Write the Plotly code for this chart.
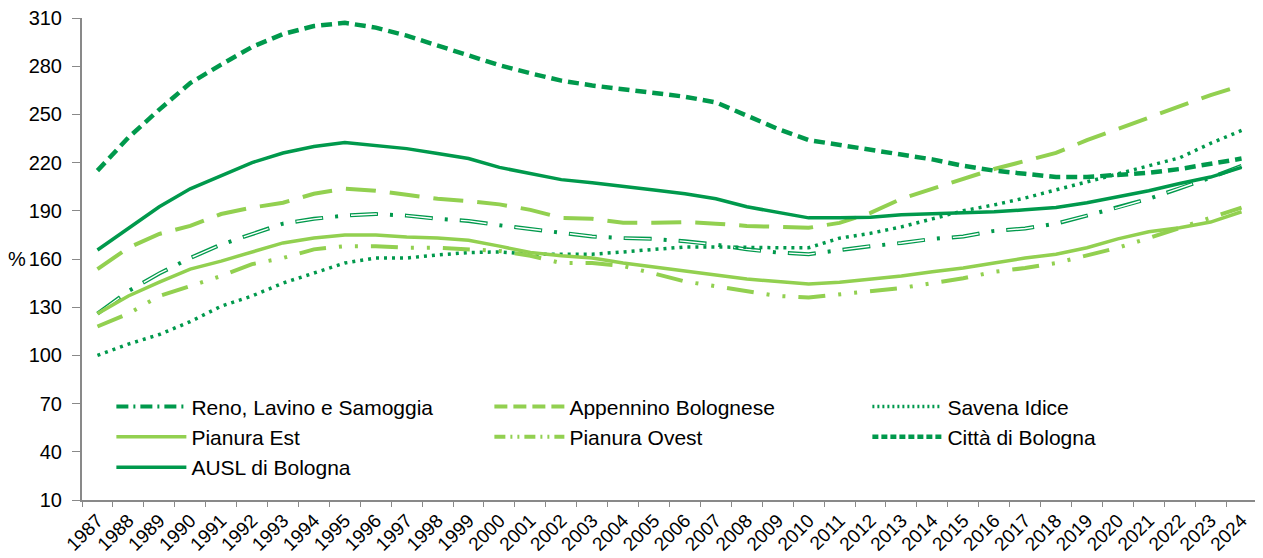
import plotly.graph_objects as go

# anni
anni = [str(a) for a in range(1987, 2025)]

# serie
reno = [126, 140, 151, 160.6, 169, 175.6, 182, 185, 187, 188, 187, 185, 183.7, 181, 178.7, 176, 174, 173, 172.5, 171,
        169, 166, 164, 163, 165.6, 168, 170, 172.5, 174, 177.5, 179, 182, 187, 192, 197.5, 204, 210.6, 218]
appennino = [153.7, 167, 175.6, 180.6, 188, 192, 195, 200.6, 203.7, 202.5, 200, 197.5, 196, 194, 190.6, 185.6, 185, 182.5, 182.5, 183,
             182, 180.6, 180, 179.4, 182.5, 188.7, 197.5, 203.7, 210, 216, 221, 226, 234, 241, 248, 255.6, 262, 268]
savena = [100, 107, 113, 121, 130.6, 137, 145, 151, 157.5, 160.6, 160.6, 162.5, 164, 164.4, 163, 163, 163, 164.4, 166, 167.5,
          167.5, 167, 167, 167, 173, 176, 180, 185, 190, 193.7, 198, 203, 208, 213, 217.5, 223, 232, 240]
pianura_est = [126, 137, 145.6, 153.7, 158.7, 164.4, 170, 173, 175, 175, 173.7, 173, 171.7, 168, 164, 162, 160.6, 157.5, 155, 152.5,
               150, 147.5, 146, 144.4, 145.6, 147.5, 149.4, 152, 154.4, 157.5, 160.6, 163, 167, 172.5, 177, 179.4, 183, 189.4]
pianura_ovest = [118, 126, 137, 143, 149.4, 156.8, 160.6, 166, 168, 168, 167, 167, 166, 165, 162, 157.5, 157.5, 155.6, 151, 146,
                 143, 140, 137, 136, 138, 140, 142, 145, 148, 152, 154.4, 157.5, 162, 167, 173, 179.4, 185.6, 192]
citta = [215, 235.6, 253, 269.5, 281, 292, 300, 305, 307, 304, 299, 293, 287, 280.6, 275.6, 271, 268, 265.6, 263.8, 261,
         257.5, 249, 241, 234, 231, 228.7, 225.6, 222, 218, 215, 213, 211, 211, 212.5, 213.7, 216, 219, 222.5]
ausl = [165.6, 179, 192.5, 203.7, 212, 220, 226, 230, 232.5, 230.6, 228.7, 225.6, 222.5, 217, 213, 209.4, 207.5, 205, 203, 200.6,
        197.5, 192.5, 189, 185.6, 185.6, 186, 187.5, 188, 188.7, 189.4, 190.6, 192, 195, 198.7, 202.5, 207, 211, 217]

verde_scuro = '#00994C'
verde_chiaro = '#92D050'

# (nome, valori, colore, spessore, tratteggio nel grafico, tratteggio in legenda)
serie = [
    ('Reno, Lavino e Samoggia', reno, verde_scuro, 4, '28px,12px,3px,12px', '12px,5px,2px,5px'),
    ('Appennino Bolognese', appennino, verde_chiaro, 4, '30px,14px', '13px,6px'),
    ('Savena Idice', savena, verde_scuro, 3.5, '3px,5px', '2px,3px'),
    ('Pianura Est', pianura_est, verde_chiaro, 3.5, 'solid', 'solid'),
    ('Pianura Ovest', pianura_ovest, verde_chiaro, 4, '27px,13px,3px,13px,3px,13px', '11px,5px,2px,5px,2px,5px'),
    ('Città di Bologna', citta, verde_scuro, 4.5, '11px,6px', '6px,3px'),
    ('AUSL di Bologna', ausl, verde_scuro, 3.5, 'solid', 'solid'),
]

fig = go.Figure()

for nome, valori, colore, spessore, tratto, _ in serie:
    fig.add_trace(go.Scatter(x=anni, y=valori, mode='lines', name=nome, showlegend=False,
                             line=dict(color=colore, width=spessore, dash=tratto)))
    if nome.startswith('Reno'):
        # linea interna bianca per l'effetto "doppia linea"
        fig.add_trace(go.Scatter(x=anni, y=valori, mode='lines', showlegend=False, hoverinfo='skip',
                                 line=dict(color='white', width=1.4, dash='0px,1px,26px,28px')))

# voci di legenda
for nome, valori, colore, spessore, _, tratto_leg in serie:
    fig.add_trace(go.Scatter(x=[None], y=[None], mode='lines', name=nome,
                             line=dict(color=colore, width=spessore, dash=tratto_leg)))

# la pagina html ha un margine di 8px: la figura viene ridotta di conseguenza
fig.update_layout(
    width=1255, height=550,
    margin=dict(l=74, r=6, t=10, b=58),
    plot_bgcolor='white', paper_bgcolor='white',
    font=dict(family='Liberation Sans, Arial, sans-serif', size=20, color='black'),
    showlegend=True,
    legend=dict(orientation='h', x=0.025, y=0.2357, xanchor='left', yanchor='top',
                entrywidth=293, entrywidthmode='pixels', itemwidth=70, bgcolor='rgba(0,0,0,0)',
                font=dict(size=21), tracegroupgap=0, traceorder='normal'),
    xaxis=dict(type='category', range=[-0.5, len(anni) - 0.5], showline=True, linecolor='#898989', linewidth=2,
               ticks='outside', tickson='boundaries', ticklen=5, tickcolor='#898989',
               tickangle=-45, showgrid=False, tickfont=dict(size=19), automargin=False,
               ticklabeloverflow='allow'),
    yaxis=dict(range=[10, 310], tick0=10, dtick=30, showline=True, linecolor='#898989', linewidth=2,
               ticks='outside', ticklen=8, tickcolor='#898989', showgrid=False, zeroline=False,
               ticklabelstandoff=6, tickfont=dict(size=20), automargin=False,
               ticklabeloverflow='allow'),
)

fig.add_annotation(text='%', xref='paper', yref='y', x=0, y=160, xshift=-65,
                   showarrow=False, xanchor='center', font=dict(size=20))

fig.write_html("out.html")
